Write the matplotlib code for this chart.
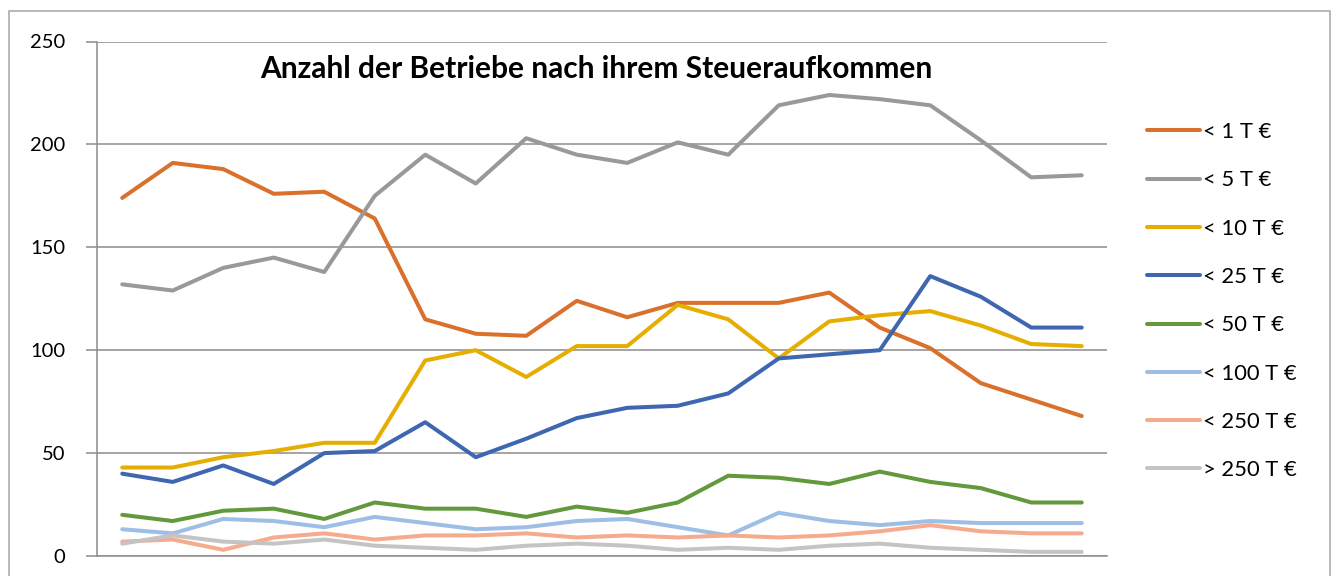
import matplotlib.pyplot as plt
from matplotlib.patches import Rectangle

plt.rcParams["font.family"] = ["Lato", "DejaVu Sans"]

# data (20 periods, no x labels visible)
periods = list(range(20))
series_labels = ["< 1 T €", "< 5 T €", "< 10 T €", "< 25 T €",
                 "< 50 T €", "< 100 T €", "< 250 T €", "> 250 T €"]
lt_1 = [174, 191, 188, 176, 177, 164, 115, 108, 107, 124,
        116, 123, 123, 123, 128, 111, 101, 84, 76, 68]
lt_5 = [132, 129, 140, 145, 138, 175, 195, 181, 203, 195,
        191, 201, 195, 219, 224, 222, 219, 202, 184, 185]
lt_10 = [43, 43, 48, 51, 55, 55, 95, 100, 87, 102,
         102, 122, 115, 96, 114, 117, 119, 112, 103, 102]
lt_25 = [40, 36, 44, 35, 50, 51, 65, 48, 57, 67,
         72, 73, 79, 96, 98, 100, 136, 126, 111, 111]
lt_50 = [20, 17, 22, 23, 18, 26, 23, 23, 19, 24,
         21, 26, 39, 38, 35, 41, 36, 33, 26, 26]
lt_100 = [13, 11, 18, 17, 14, 19, 16, 13, 14, 17,
          18, 14, 10, 21, 17, 15, 17, 16, 16, 16]
lt_250 = [7, 8, 3, 9, 11, 8, 10, 10, 11, 9,
          10, 9, 10, 9, 10, 12, 15, 12, 11, 11]
gt_250 = [6, 10, 7, 6, 8, 5, 4, 3, 5, 6,
          5, 3, 4, 3, 5, 6, 4, 3, 2, 2]
series = [lt_1, lt_5, lt_10, lt_25, lt_50, lt_100, lt_250, gt_250]
colors = ["#D9712C", "#999999", "#E5AE00", "#3F66B0",
          "#63993D", "#9DBFE6", "#F4AB8E", "#C4C4C4"]

fig = plt.figure(figsize=(13.38, 5.76), dpi=100)
ax = fig.add_axes([97 / 1338, 1 - 556 / 576, 1010 / 1338, 514.5 / 576])

for vals, lab, col in zip(series, series_labels, colors):
    ax.plot(periods, vals, color=col, lw=2.9, label=lab,
            solid_capstyle="round", solid_joinstyle="round")

ax.set_xlim(-0.5, 19.5)
ax.set_ylim(0, 250)
ax.set_yticks(range(0, 251, 50))
ax.set_xticks([])
ax.grid(axis="y", color="#8C8C8C", lw=1.1)
ax.set_axisbelow(True)
for side in ["top", "right"]:
    ax.spines[side].set_visible(False)
ax.spines["left"].set_color("#8C8C8C")
ax.spines["bottom"].set_color("#8C8C8C")
ax.spines["left"].set_linewidth(1.1)
ax.spines["bottom"].set_linewidth(1.1)
ax.tick_params(axis="y", length=8, width=1.1, color="#8C8C8C",
               labelsize=14.5, pad=15)

fig.text(596 / 1338, 1 - 69 / 576, "Anzahl der Betriebe nach ihrem Steueraufkommen",
         ha="center", va="center", fontsize=21.5, fontweight="bold")

ax.legend(loc="upper left", bbox_to_anchor=(1147 / 1338, 1 - 122 / 576),
          bbox_transform=fig.transFigure, frameon=False, fontsize=15.8,
          handlelength=2.4, handletextpad=0.15, labelspacing=1.29,
          borderpad=0, borderaxespad=0)

# outer chart border (bottom edge falls outside the picture)
fig.patches.append(Rectangle((9 / 1338, -0.1), 1321 / 1338, 1.1 - 11 / 576,
                             transform=fig.transFigure, fill=False,
                             edgecolor="#A6A6A6", lw=1.1))

fig.savefig("out.png", dpi=100)
